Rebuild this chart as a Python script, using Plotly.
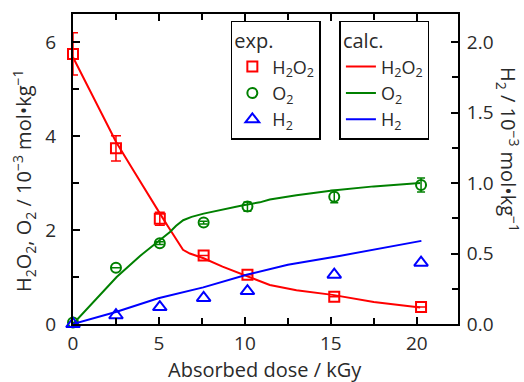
import plotly.graph_objects as go

# ---- data ----
dose_exp = [0, 2.5, 5.05, 7.6, 10.15, 15.2, 20.25]
h2o2_exp = [5.75, 3.74, 2.24, 1.46, 1.05, 0.58, 0.36]
h2o2_err = [0.45, 0.27, 0.14, 0, 0, 0, 0]
o2_exp = [0.03, 1.2, 1.72, 2.16, 2.5, 2.71, 2.96]
o2_err = [0, 0, 0.03, 0.03, 0.1, 0.13, 0.15]
h2_exp = [0.0, 0.062, 0.12, 0.185, 0.234, 0.35, 0.435]

dose_h2o2_calc = [0, 2.5, 3.5, 4.2, 5.06, 5.54, 6.0, 6.4, 6.8, 7.6, 8.7, 9.9, 10.87, 11.45, 13.0, 15.1, 17.5, 20.2]
h2o2_calc = [5.68, 3.88, 3.28, 2.85, 2.35, 2.07, 1.80, 1.58, 1.50, 1.40, 1.22, 1.05, 0.90, 0.83, 0.72, 0.62, 0.47, 0.35]
dose_o2_calc = [0, 2.54, 3.9, 5.06, 5.64, 6.0, 6.41, 6.9, 7.6, 9.9, 10.87, 11.45, 13.0, 15.1, 17.5, 20.2]
o2_calc = [0, 1.0, 1.45, 1.78, 1.96, 2.09, 2.21, 2.28, 2.35, 2.53, 2.59, 2.65, 2.74, 2.84, 2.93, 3.0]
dose_h2_calc = [0, 2.54, 4.96, 7.58, 10.1, 12.5, 15.5, 18.0, 20.27]
h2_calc = [0, 0.087, 0.183, 0.26, 0.35, 0.42, 0.483, 0.54, 0.59]

RED, GREEN, BLUE = "#ff0000", "#008000", "#0000ff"
FONT = "Open Sans"
TXT = "#2a2a2a"

fig = go.Figure()

# calc lines
fig.add_trace(go.Scatter(x=dose_h2o2_calc, y=h2o2_calc, mode="lines", line=dict(color=RED, width=2),
                         name="H<sub>2</sub>O<sub>2</sub>", legend="legend2"))
fig.add_trace(go.Scatter(x=dose_o2_calc, y=o2_calc, mode="lines", line=dict(color=GREEN, width=2),
                         name="O<sub>2</sub>", legend="legend2"))
fig.add_trace(go.Scatter(x=dose_h2_calc, y=h2_calc, mode="lines", line=dict(color=BLUE, width=2),
                         name="H<sub>2</sub>", legend="legend2", yaxis="y2"))

# exp markers
fig.add_trace(go.Scatter(x=dose_exp, y=h2o2_exp, mode="markers", cliponaxis=False,
                         marker=dict(symbol="square-open", size=10, color=RED, line=dict(width=2)),
                         error_y=dict(type="data", array=h2o2_err, visible=True, color=RED, thickness=1.5, width=5),
                         name="H<sub>2</sub>O<sub>2</sub>", legend="legend"))
fig.add_trace(go.Scatter(x=dose_exp, y=o2_exp, mode="markers", cliponaxis=False,
                         marker=dict(symbol="circle-open", size=10, color=GREEN, line=dict(width=2)),
                         error_y=dict(type="data", array=o2_err, visible=True, color=GREEN, thickness=1.5, width=4),
                         name="O<sub>2</sub>", legend="legend"))
fig.add_trace(go.Scatter(x=dose_exp, y=h2_exp, mode="markers", cliponaxis=False, yaxis="y2",
                         marker=dict(symbol="triangle-up-open", size=12, color=BLUE, line=dict(width=2)),
                         name="H<sub>2</sub>", legend="legend"))

axis_common = dict(showline=True, linecolor="black", linewidth=2, ticks="inside", ticklen=7,
                   tickwidth=1.5, tickcolor="black", showgrid=False, zeroline=False, automargin=False,
                   tickfont=dict(family=FONT, size=19, color=TXT))

fig.update_layout(
    width=524, height=382,
    margin=dict(l=73, r=66, t=14, b=58),
    paper_bgcolor="white", plot_bgcolor="white",
    font=dict(family=FONT, size=19, color=TXT),
    xaxis=dict(range=[0, 22.4], dtick=5, tick0=0, mirror="ticks",
               minor=dict(dtick=2.5, ticks="inside", ticklen=6, tickcolor="black", tickwidth=1.5),
               ticklabelstandoff=1,
               **axis_common),
    yaxis=dict(range=[0, 6.6], dtick=2, tick0=0,
               minor=dict(dtick=1, ticks="inside", ticklen=6, tickcolor="black", tickwidth=1.5),
               ticklabelstandoff=11,
               **axis_common),
    yaxis2=dict(range=[0, 2.2], dtick=0.5, tick0=0, tickformat=".1f", overlaying="y", side="right",
                minor=dict(dtick=0.25, ticks="inside", ticklen=6, tickcolor="black", tickwidth=1.5),
                ticklabelstandoff=3,
                **axis_common),
    legend=dict(x=0.41, y=0.978, xanchor="left", yanchor="top", bordercolor="black", borderwidth=1.5,
                bgcolor="white", title=dict(text="exp.", font=dict(family=FONT, size=20, color=TXT)),
                font=dict(family=FONT, size=18, color=TXT), tracegroupgap=0, itemwidth=30),
    legend2=dict(x=0.692, y=0.978, xanchor="left", yanchor="top", bordercolor="black", borderwidth=1.5,
                 bgcolor="white", title=dict(text="calc.", font=dict(family=FONT, size=20, color=TXT)),
                 font=dict(family=FONT, size=18, color=TXT), tracegroupgap=0, itemwidth=30),
    showlegend=True,
    annotations=[
        dict(text="Absorbed dose / kGy",
             xref="paper", yref="paper", x=(265 - 73) / 385, y=(324 - 369) / 310,
             showarrow=False, xanchor="center", yanchor="middle",
             font=dict(family=FONT, size=20, color=TXT)),
        dict(text="H<sub>2</sub>O<sub>2</sub>, O<sub>2</sub> / 10<sup>−3</sup> mol•kg<sup>−1</sup>",
             xref="paper", yref="paper", x=(24 - 73) / 385, y=(324 - 181) / 310, textangle=-90,
             showarrow=False, xanchor="center", yanchor="middle",
             font=dict(family=FONT, size=20, color=TXT)),
        dict(text="H<sub>2</sub> / 10<sup>−3</sup> mol•kg<sup>−1</sup>",
             xref="paper", yref="paper", x=(508 - 73) / 385, y=(324 - 149) / 310, textangle=90,
             showarrow=False, xanchor="center", yanchor="middle",
             font=dict(family=FONT, size=20, color=TXT)),
    ],
)

fig.write_html("out.html")
